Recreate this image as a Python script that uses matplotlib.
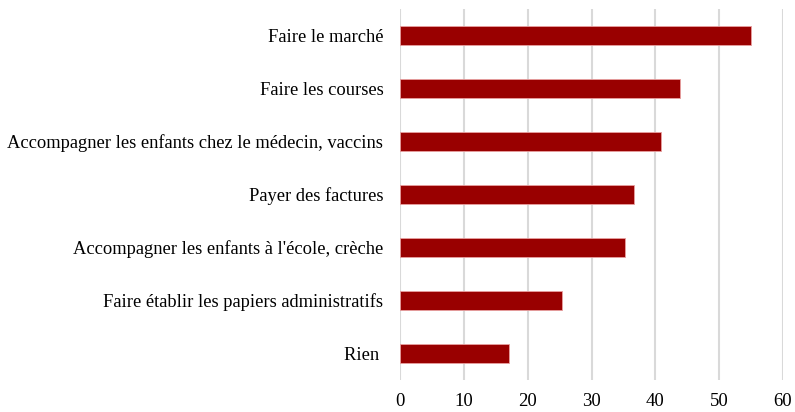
import matplotlib.pyplot as plt

categories = ["Rien ",
              "Faire établir les papiers administratifs",
              "Accompagner les enfants à l'école, crèche",
              "Payer des factures",
              "Accompagner les enfants chez le médecin, vaccins",
              "Faire les courses",
              "Faire le marché"]
values = [17.0, 25.4, 35.2, 36.6, 40.9, 43.8, 55.0]
xticks = [0, 10, 20, 30, 40, 50, 60]

plt.rcParams['font.family'] = ['Liberation Serif', 'DejaVu Serif']

fig = plt.figure(figsize=(7.95, 4.12), dpi=100)
ax = fig.add_axes([400 / 795, 1 - 380 / 412, 383 / 795, 371 / 412])

ax.barh(range(len(categories)), values, height=0.35, color='#990000',
        edgecolor='#e8a0a0', linewidth=0.6, zorder=3)
ax.set_yticks(range(len(categories)))
ax.set_yticklabels(categories, fontsize=13.3)
ax.set_xticks(xticks)
ax.set_xticklabels([str(t) for t in xticks], fontsize=13.5)
ax.set_xlim(0, 60)
ax.set_ylim(-0.5, 6.5)
ax.grid(axis='x', color='#d9d9d9', linewidth=1.5, zorder=0)
ax.tick_params(axis='both', length=0)
ax.tick_params(axis='y', pad=12)
ax.tick_params(axis='x', pad=9)
for s in ax.spines.values():
    s.set_visible(False)

fig.savefig("out.png", dpi=100)
